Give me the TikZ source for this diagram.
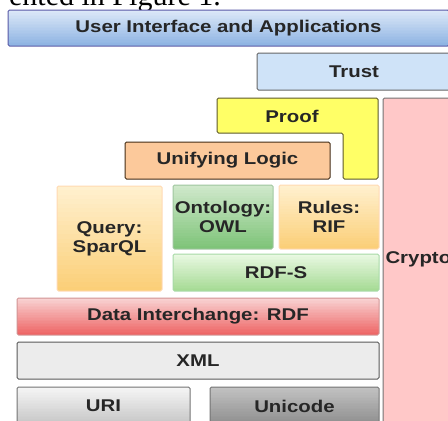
\documentclass[tikz,border=0pt]{standalone}
\usepackage{fontspec}
\usepackage{tikz}
\usetikzlibrary{positioning}
\newfontfamily\layerfont{Liberation Sans}[FakeStretch=1.2]
\newfontfamily\captionfont{Liberation Serif}
\definecolor{uitop}{HTML}{DCE8F8}
\definecolor{uibottom}{HTML}{8DB3E2}
\definecolor{trustblue}{HTML}{CFE3F8}
\definecolor{proofyellow}{HTML}{FFFF66}
\definecolor{cryptopink}{HTML}{FFC8C8}
\definecolor{logicorange}{HTML}{FCC99B}
\definecolor{querytop}{HTML}{FFF0CE}
\definecolor{querybottom}{HTML}{FBCF78}
\definecolor{owltop}{HTML}{CFE8CB}
\definecolor{owlbottom}{HTML}{7FC479}
\definecolor{rdfstop}{HTML}{E9F8E2}
\definecolor{rdfsbottom}{HTML}{A6DB95}
\definecolor{rdftop}{HTML}{F8D2D2}
\definecolor{rdfbottom}{HTML}{EE6666}
\definecolor{xmlgray}{HTML}{ECECEC}
\definecolor{uritop}{HTML}{F5F5F5}
\definecolor{uribottom}{HTML}{C6C6C6}
\definecolor{unitop}{HTML}{C2C2C2}
\definecolor{unibottom}{HTML}{8E8E8E}
\tikzset{
  layer/.style={rectangle, rounded corners=1.5pt, line width=1pt, inner sep=0pt,
    align=center, text=black!85, font=\layerfont\bfseries\fontsize{17}{19}\selectfont},
  layerbox/.style={rounded corners=1.5pt, line width=1pt}
}
% vertical colour ramp inside a box: x1, y1 (top), x2, y2 (bottom), top colour, bottom colour
\newcommand{\layergrad}[6]{%
  \begin{scope}
    \clip[rounded corners=1.5pt] (#1,#2) rectangle (#3,#4);
    \foreach \k in {0,...,23} {
      \pgfmathsetmacro\mixpart{100*\k/23}
      \fill[#6!\mixpart!#5] (#1,{#2+(#4-#2)*\k/24}) rectangle (#3,{#2+(#4-#2)*(\k+1)/24-0.4});
    }
  \end{scope}}

\begin{document}
\begin{tikzpicture}[x=1pt, y=1pt]
  \useasboundingbox (0,0) rectangle (448,-421);
  \clip (0,0) rectangle (448,-421);

  % Caption line above
  \node[anchor=base east, inner sep=0pt, font=\captionfont\fontsize{30}{32}\selectfont] (caption) at (221,-5) {ented in Figure 1.};

  % Top layers
  \layergrad{8}{-10}{449}{-46}{uitop}{uibottom}
  \node[layer, draw=gray!70!blue,
    minimum width=441, minimum height=36] (ui) at (228.5,-28) {User Interface and Applications};
  \node[layer, draw=black!60, fill=trustblue,
    minimum width=194, minimum height=37] (trust) at (354,-71.5) {Trust};

  % Crypto column
  \draw[layerbox, draw=black!55, fill=cryptopink] (383,-98) rectangle (470,-430);
  \node[layer, anchor=west] (crypto) at (385,-259) {Crypto};

  % Proof
  \draw[layerbox, draw=black!45!olive, fill=proofyellow]
    (217,-98) -- (378,-98) -- (378,-179) -- (343,-179) -- (343,-133) -- (217,-133) -- cycle;
  \node[layer] (proof) at (292,-116) {Proof};

  % Unifying logic
  \node[layer, draw=black!65!brown, fill=logicorange,
    minimum width=205, minimum height=37] (logic) at (227.5,-160.5) {Unifying Logic};

  % Query, ontology, rules
  \layergrad{57}{-186}{162}{-291}{querytop}{querybottom}
  \node[layer, draw=orange!30,
    minimum width=105, minimum height=105] (query) at (109.5,-238.5) {Query:\\SparQL};
  \layergrad{173}{-185}{273}{-249}{owltop}{owlbottom}
  \node[layer, draw=green!25!gray!60,
    minimum width=100, minimum height=64] (owl) at (223,-217) {Ontology:\\OWL};
  \layergrad{279}{-185}{379}{-249}{querytop}{querybottom}
  \node[layer, draw=orange!30,
    minimum width=100, minimum height=64] (rif) at (329,-217) {Rules:\\RIF};
  \layergrad{173}{-254}{379}{-291}{rdfstop}{rdfsbottom}
  \node[layer, draw=green!40!gray!50,
    minimum width=206, minimum height=37] (rdfs) at (276,-272.5) {RDF-S};

  % Lower layers
  \layergrad{17}{-298}{379}{-335}{rdftop}{rdfbottom}
  \node[layer, draw=red!40!gray!60,
    minimum width=362, minimum height=37] (rdf) at (198,-316.5) {Data Interchange: RDF};
  \node[layer, draw=black!65, fill=xmlgray,
    minimum width=362, minimum height=37] (xml) at (198,-360.5) {XML};
  \layergrad{17}{-387}{190}{-425}{uritop}{uribottom}
  \node[layer, draw=black!55,
    minimum width=173, minimum height=38] (uri) at (103.5,-406) {URI};
  \layergrad{210}{-387}{379}{-425}{unitop}{unibottom}
  \node[layer, draw=black!55,
    minimum width=169, minimum height=38] (unicode) at (294.5,-406) {Unicode};
\end{tikzpicture}
\end{document}
